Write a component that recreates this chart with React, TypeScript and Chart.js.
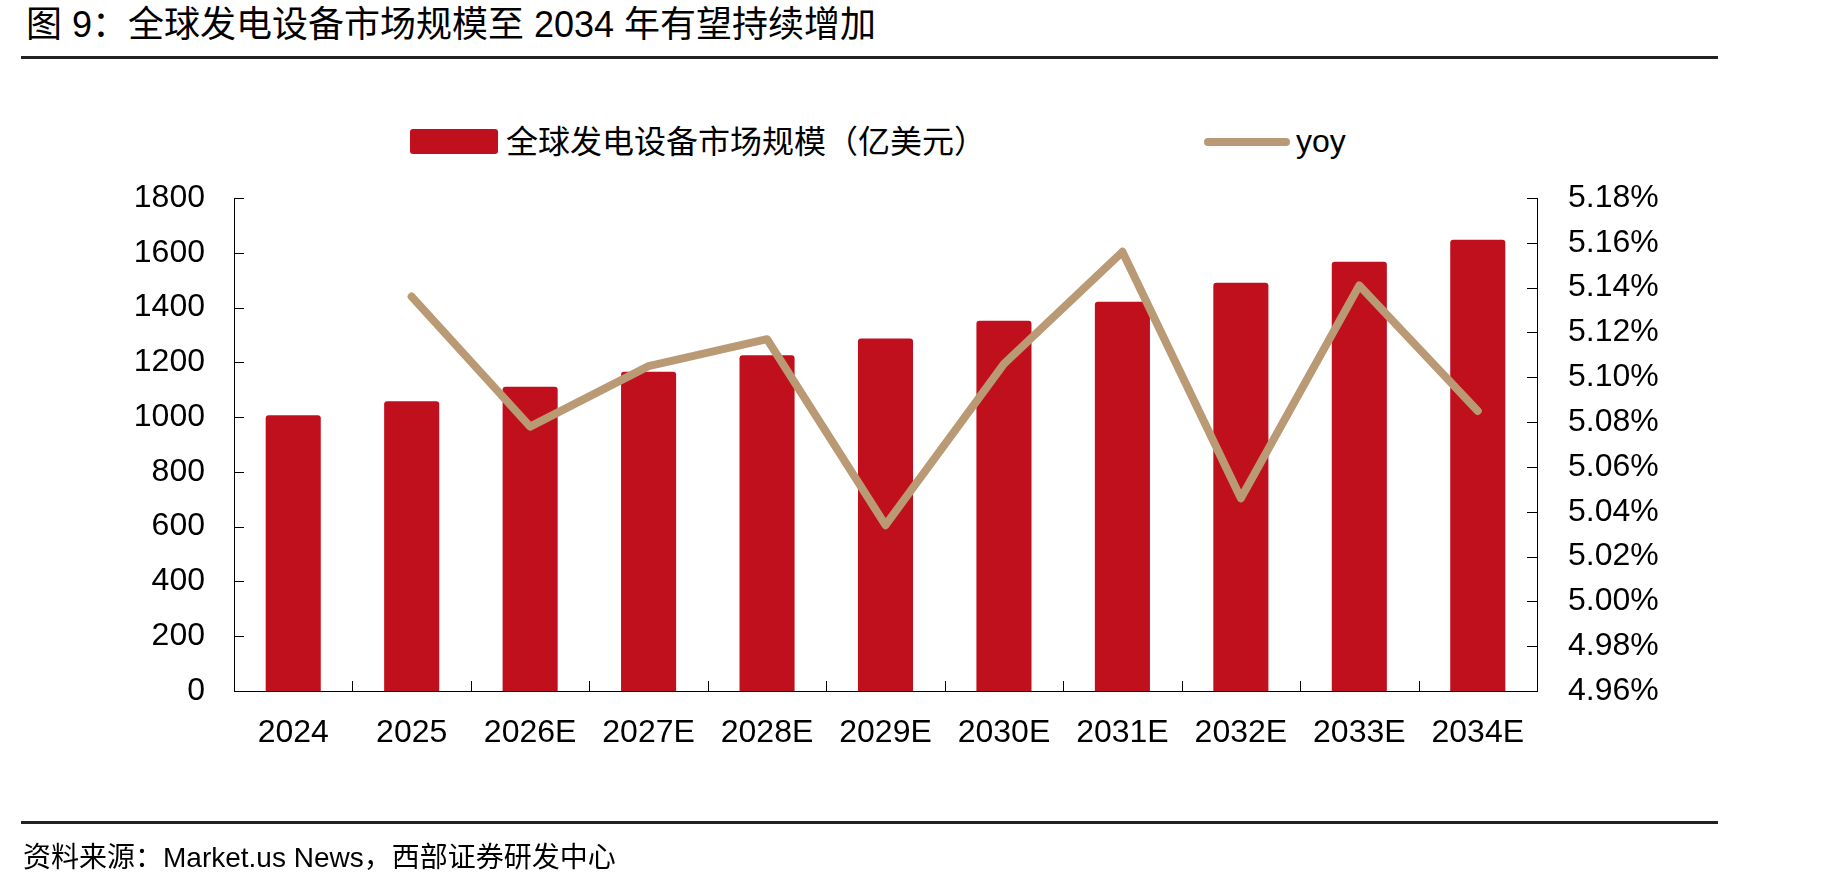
import { useEffect, useRef } from 'react';
import { Chart, ChartConfiguration, Plugin, registerables } from 'chart.js';

Chart.register(...registerables);

const years = ['2024', '2025', '2026E', '2027E', '2028E', '2029E', '2030E', '2031E', '2032E', '2033E', '2034E'];
// 全球发电设备市场规模（亿美元）
const marketSize = [1007, 1058, 1111, 1166, 1226, 1287, 1352, 1421, 1491, 1567, 1648];
// yoy, in %
const yoy = [null, 5.136, 5.078, 5.105, 5.117, 5.034, 5.106, 5.156, 5.046, 5.141, 5.085];
const yoyTicks = [4.96, 4.98, 5.0, 5.02, 5.04, 5.06, 5.08, 5.1, 5.12, 5.14, 5.16, 5.18];

const W = 1835;
const H = 889;
const BAR_RED = '#C0101E';
const TAN = '#BA9A74';
const LATIN = "'Liberation Sans', Arial, sans-serif";
const CJK = "'Liberation Sans', 'Noto Sans CJK SC', sans-serif";

// inward tick marks on all three axes
const innerTicks: Plugin = {
  id: 'innerTicks',
  afterDraw(chart) {
    const { ctx, chartArea, scales } = chart;
    const len = 10;
    ctx.save();
    ctx.strokeStyle = '#000';
    ctx.lineWidth = 1;
    const left = scales.y;
    left.ticks.forEach((t) => {
      const y = Math.round(left.getPixelForValue(t.value)) + 0.5;
      ctx.beginPath();
      ctx.moveTo(chartArea.left, y);
      ctx.lineTo(chartArea.left + len, y);
      ctx.stroke();
    });
    const right = scales.y1;
    right.ticks.forEach((t) => {
      const y = Math.round(right.getPixelForValue(t.value)) + 0.5;
      ctx.beginPath();
      ctx.moveTo(chartArea.right - len, y);
      ctx.lineTo(chartArea.right, y);
      ctx.stroke();
    });
    const x = scales.x;
    for (let i = 1; i < years.length; i++) {
      const px = Math.round((x.getPixelForTick(i - 1) + x.getPixelForTick(i)) / 2) + 0.5;
      ctx.beginPath();
      ctx.moveTo(px, chartArea.bottom);
      ctx.lineTo(px, chartArea.bottom - len);
      ctx.stroke();
    }
    ctx.restore();
  },
};

function ComboChart() {
  const chartRef = useRef<HTMLCanvasElement>(null);
  const chartInstance = useRef<Chart | null>(null);

  useEffect(() => {
    if (!chartRef.current) return;
    if (chartInstance.current) chartInstance.current.destroy();
    const ctx = chartRef.current.getContext('2d');
    if (!ctx) return;

    const tickFont = { family: LATIN, size: 32 };

    const config: ChartConfiguration = {
      type: 'bar',
      data: {
        labels: years,
        datasets: [
          {
            type: 'line',
            label: 'yoy',
            data: yoy,
            yAxisID: 'y1',
            borderColor: TAN,
            backgroundColor: TAN,
            borderWidth: 8,
            borderCapStyle: 'round',
            borderJoinStyle: 'round',
            pointRadius: 0,
            tension: 0,
            order: 0,
          } as any,
          {
            type: 'bar',
            label: '全球发电设备市场规模（亿美元）',
            data: marketSize,
            yAxisID: 'y',
            backgroundColor: BAR_RED,
            borderWidth: 0,
            borderRadius: { topLeft: 3, topRight: 3, bottomLeft: 0, bottomRight: 0 },
            borderSkipped: false,
            categoryPercentage: 1,
            barPercentage: 0.465,
            order: 1,
          } as any,
        ],
      },
      options: {
        responsive: false,
        animation: false,
        layout: { padding: { top: 198, left: 0, right: 0, bottom: 0 } },
        plugins: {
          legend: { display: false },
          tooltip: { enabled: false },
        },
        scales: {
          x: {
            offset: true,
            grid: { display: false, drawTicks: false, tickLength: 0 },
            border: { display: true, color: '#000', width: 1 },
            ticks: { font: tickFont, color: '#000', padding: 23, maxRotation: 0, autoSkip: false },
            afterFit: (s: any) => { s.height = H - 691; },
          },
          y: {
            position: 'left',
            min: 0,
            max: 1800,
            grid: { display: false, drawTicks: false, tickLength: 0 },
            border: { display: true, color: '#000', width: 1 },
            ticks: {
              stepSize: 200,
              font: tickFont,
              color: '#000',
              padding: 29,
              callback: (v: any) => String(v),
            },
            afterFit: (s: any) => { s.width = 234; },
          },
          y1: {
            position: 'right',
            min: 4.96,
            max: 5.18,
            grid: { display: false, drawTicks: false, tickLength: 0 },
            border: { display: true, color: '#000', width: 1 },
            afterBuildTicks: (s: any) => { s.ticks = yoyTicks.map((v) => ({ value: v })); },
            ticks: {
              font: tickFont,
              color: '#000',
              padding: 31,
              callback: (v: any) => Number(v).toFixed(2) + '%',
            },
            afterFit: (s: any) => { s.width = W - 1537; },
          },
        },
      },
      plugins: [innerTicks],
    };

    chartInstance.current = new Chart(ctx, config);
    return () => {
      if (chartInstance.current) {
        chartInstance.current.destroy();
        chartInstance.current = null;
      }
    };
  }, []);

  return (
    <canvas
      ref={chartRef}
      width={W}
      height={H}
      style={{ position: 'absolute', left: 0, top: 0, width: W, height: H }}
    />
  );
}

export default function App() {
  return (
    <div style={{ position: 'fixed', left: 0, top: 0, width: W, height: H, background: '#fff', overflow: 'hidden' }}>
      <div style={{ position: 'absolute', left: 26, top: 6, font: `36px ${CJK}`, lineHeight: '38px', color: '#000', whiteSpace: 'nowrap' }}>
        图 9：全球发电设备市场规模至 2034 年有望持续增加
      </div>
      <div style={{ position: 'absolute', left: 21, top: 56, width: 1697, height: 3, background: '#222' }} />

      {/* legend */}
      <div style={{ position: 'absolute', left: 410, top: 129, width: 88, height: 25, background: BAR_RED, borderRadius: 3 }} />
      <div style={{ position: 'absolute', left: 506, top: 126, font: `32px ${CJK}`, lineHeight: '32px', color: '#000', whiteSpace: 'nowrap' }}>
        全球发电设备市场规模（亿美元）
      </div>
      <div style={{ position: 'absolute', left: 1204, top: 138, width: 86, height: 8, background: TAN, borderRadius: 4 }} />
      <div style={{ position: 'absolute', left: 1296, top: 125, font: `32px ${LATIN}`, lineHeight: '32px', color: '#000' }}>
        yoy
      </div>

      <ComboChart />

      <div style={{ position: 'absolute', left: 21, top: 821, width: 1697, height: 3, background: '#222' }} />
      <div style={{ position: 'absolute', left: 23, top: 843, font: `28px ${CJK}`, lineHeight: '30px', color: '#000', whiteSpace: 'nowrap' }}>
        资料来源：Market.us News，西部证券研发中心
      </div>
    </div>
  );
}
